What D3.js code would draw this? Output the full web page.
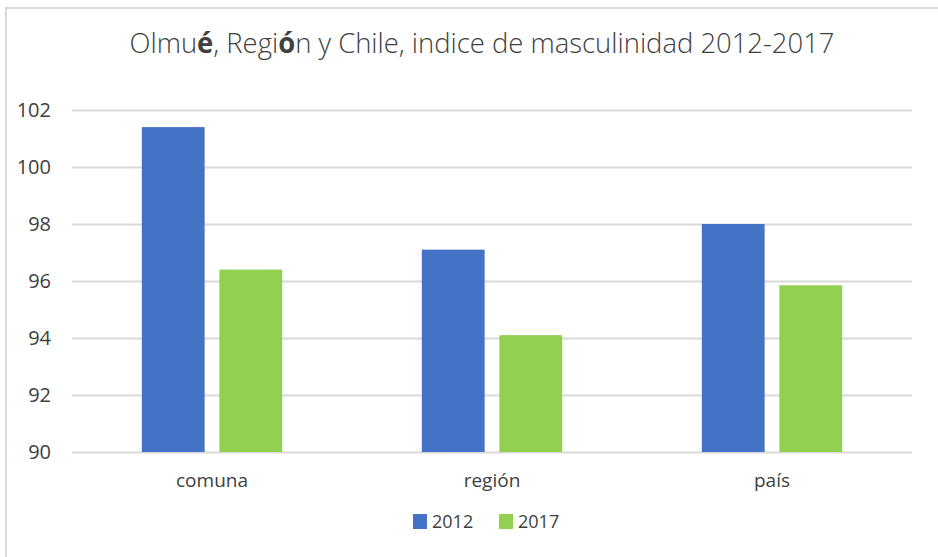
<!DOCTYPE html>
<html>
<head>
<meta charset="utf-8">
<script src="https://cdn.jsdelivr.net/npm/d3@7"></script>
<style>
  body { margin: 0; background: #fff; }
  text { fill: #404040; font-family: "Open Sans", "Noto Sans", sans-serif; }
</style>
</head>
<body>
<svg id="chart"></svg>
<script>
var categories = ["comuna", "región", "país"];
var series = ["2012", "2017"];
var values2012 = [101.4, 97.1, 98.0];
var values2017 = [96.4, 94.1, 95.85];
var yTicks = [90, 92, 94, 96, 98, 100, 102];
var colors = ["#4472C4", "#92D050"];

var W = 938, H = 557;
var margin = { top: 110, right: 26, bottom: 105, left: 72 };
var w = W - margin.left - margin.right,
    h = H - margin.top - margin.bottom;

var svg = d3.select("#chart").attr("width", W).attr("height", H);

// outer frame
svg.append("rect")
   .attr("x", 6).attr("y", 8)
   .attr("width", W + 10).attr("height", H + 10)
   .attr("fill", "none").attr("stroke", "#d9d9d9").attr("stroke-width", 2);

// title, accented letters are bold in the original
var title = svg.append("text")
   .attr("x", 482).attr("y", 53)
   .attr("text-anchor", "middle")
   .style("font-size", "28px").style("font-weight", 300)
   .attr("textLength", 705).attr("lengthAdjust", "spacingAndGlyphs");
title.append("tspan").text("Olmu");
title.append("tspan").style("font-weight", 700).text("é");
title.append("tspan").text(", Regi");
title.append("tspan").style("font-weight", 700).text("ó");
title.append("tspan").text("n y Chile, indice de masculinidad 2012-2017");

var g = svg.append("g").attr("transform", "translate(" + margin.left + "," + margin.top + ")");

var y = d3.scaleLinear().domain([90, 102]).range([h, 0]);
var x0 = d3.scaleBand().domain(categories).range([0, w]);
var x1 = d3.scaleBand().domain(series).range([0, x0.bandwidth()])
           .paddingInner(0.19).paddingOuter(0.9);

// gridlines
g.append("g")
 .call(d3.axisLeft(y).tickValues(yTicks).tickSize(-w).tickFormat(""))
 .call(function(a) {
   a.select(".domain").remove();
   a.selectAll("line").attr("stroke", "#d9d9d9").attr("stroke-width", 2);
 });

// y labels
g.append("g")
 .attr("transform", "translate(-21,0)")
 .call(d3.axisLeft(y).tickValues(yTicks).tickSize(0).tickPadding(0))
 .call(function(a) {
   a.select(".domain").remove();
   a.selectAll("text").style("font-size", "20px").attr("fill", "#404040")
    .style("font-family", "'Open Sans', sans-serif");
 });

var rows = categories.map(function(c, i) {
  return { cat: c, vals: [values2012[i], values2017[i]] };
});

var groups = g.selectAll(".grp").data(rows).enter().append("g")
  .attr("transform", function(d) { return "translate(" + x0(d.cat) + ",0)"; });

groups.selectAll("rect")
  .data(function(d) { return d.vals.map(function(v, j) { return { s: series[j], v: v, j: j }; }); })
  .enter().append("rect")
  .attr("x", function(d) { return x1(d.s); })
  .attr("y", function(d) { return y(d.v); })
  .attr("width", x1.bandwidth())
  .attr("height", function(d) { return h - y(d.v); })
  .attr("fill", function(d) { return colors[d.j]; });

// x labels
g.append("g")
 .attr("transform", "translate(0," + h + ")")
 .call(d3.axisBottom(x0).tickSize(0).tickPadding(22))
 .call(function(a) {
   a.select(".domain").remove();
   a.selectAll("text").style("font-size", "19px").attr("fill", "#404040")
    .style("font-family", "'Open Sans', sans-serif");
 });

// legend
var legend = svg.append("g").attr("transform", "translate(413,514)");
var lx = [0, 86];
series.forEach(function(s, i) {
  legend.append("rect").attr("x", lx[i]).attr("y", 0).attr("width", 14).attr("height", 15)
        .attr("fill", colors[i]);
  legend.append("text").attr("x", lx[i] + 19).attr("y", 14)
        .style("font-size", "18px").text(s);
});
</script>
</body>
</html>
